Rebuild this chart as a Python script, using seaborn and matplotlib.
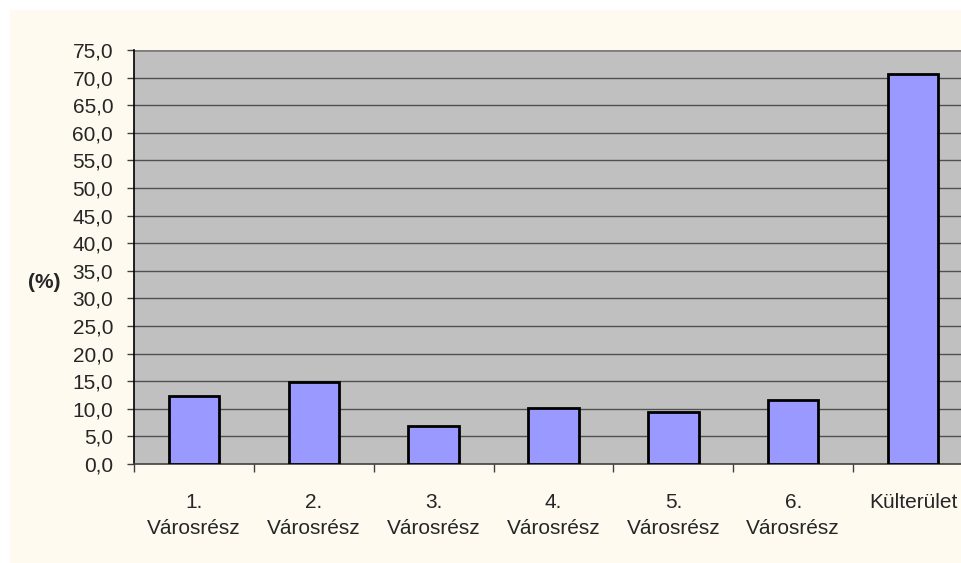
import matplotlib
matplotlib.use("Agg")
import matplotlib.pyplot as plt
import seaborn as sns
import pandas as pd
from matplotlib.patches import Rectangle

categories = ["1.\nVárosrész", "2.\nVárosrész", "3.\nVárosrész", "4.\nVárosrész",
              "5.\nVárosrész", "6.\nVárosrész", "Külterület"]
values = [12.4, 14.9, 6.9, 10.2, 9.5, 11.6, 70.7]
y_ticks = [0, 5, 10, 15, 20, 25, 30, 35, 40, 45, 50, 55, 60, 65, 70, 75]
y_tick_labels = ["0,0", "5,0", "10,0", "15,0", "20,0", "25,0", "30,0", "35,0",
                 "40,0", "45,0", "50,0", "55,0", "60,0", "65,0", "70,0", "75,0"]
y_label = "(%)"

sns.set_theme(style="white")
plt.rcParams['font.family'] = ['Liberation Sans', 'DejaVu Sans']

W, H = 962, 563
fig = plt.figure(figsize=(W / 100, H / 100), dpi=100, facecolor="white")
fig.patches.append(Rectangle((10 / W, 0), 1 - 10 / W + 0.01, (H - 10) / H,
                             transform=fig.transFigure, facecolor="#FFFAF0",
                             edgecolor="none", zorder=-10))

ax = fig.add_axes([134 / W, (H - 464) / H, 839 / W, 414 / H])
ax.set_facecolor("#C0C0C0")

df = pd.DataFrame({"cat": categories, "val": values})
sns.barplot(data=df, x="cat", y="val", ax=ax, color="#9999FF", width=0.42,
            edgecolor="black", linewidth=2.0, saturation=1, zorder=3)

ax.set_xlim(-0.5, len(categories) - 0.5)
ax.set_ylim(0, 75)
ax.set_yticks(y_ticks)
ax.set_yticklabels(y_tick_labels, fontsize=15)
for y in y_ticks[1:]:
    ax.axhline(y, color="#505050", lw=1.0, zorder=1)
ax.axhline(75, color="#808080", lw=2.0, zorder=2)

ax.set_xticks(range(len(categories)))
ax.set_xticklabels(categories, fontsize=15, va="top", linespacing=1.45)
ax.set_xticks([i - 0.5 for i in range(len(categories) + 1)], minor=True)
ax.tick_params(axis="x", which="major", length=0, pad=21)
ax.tick_params(axis="x", which="minor", length=6, width=1, color="#404040",
               direction="out", bottom=True)
ax.tick_params(axis="y", which="major", length=5, width=1, color="#404040",
               direction="out", left=True, pad=10)

for s in ["top", "right"]:
    ax.spines[s].set_visible(False)
ax.spines["left"].set_color("black")
ax.spines["left"].set_linewidth(1.2)
ax.spines["bottom"].set_color("#404040")
ax.spines["bottom"].set_linewidth(1.2)

ax.set_xlabel("")
ax.set_ylabel("")
fig.text(44 / W, 1 - 283 / H, y_label, fontsize=15, fontweight="bold",
         ha="center", va="center")

fig.savefig("out.png", dpi=100, facecolor=fig.get_facecolor())
